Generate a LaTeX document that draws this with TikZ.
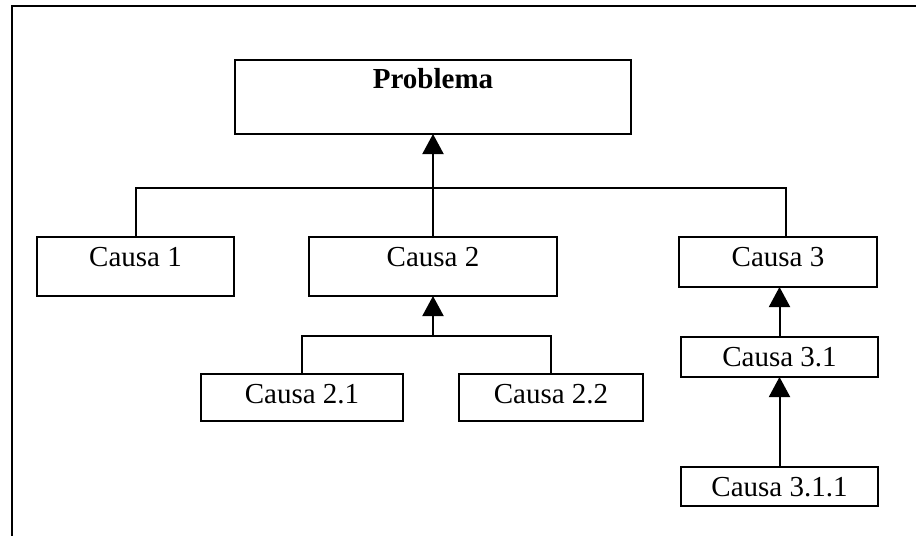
\documentclass[tikz,border=0pt]{standalone}
\usepackage{fontspec}
\setmainfont{Liberation Serif}
\usetikzlibrary{arrows.meta}
\begin{document}
\begin{tikzpicture}[x=0.5pt,y=-0.5pt,
  box/.style={draw,line width=1pt,inner sep=0pt,outer sep=0pt,rectangle},
  lbl/.style={anchor=base,inner sep=0pt,font=\fontsize{14.5}{17}\selectfont},
  conn/.style={line width=1pt},
  arr/.style={line width=1pt,-{Triangle[length=10pt,width=10.5pt]}}]
\useasboundingbox (0,0) rectangle (916,536);
\draw[line width=1pt] (916,6) -- (12,6) -- (12,536);
% boxes
\node[box,minimum width=396*0.5pt,minimum height=74*0.5pt] (p) at (433,97) {};
\node[box,minimum width=197*0.5pt,minimum height=59*0.5pt] (c1) at (135.5,266.5) {};
\node[box,minimum width=248*0.5pt,minimum height=59*0.5pt] (c2) at (433,266.5) {};
\node[box,minimum width=198*0.5pt,minimum height=50*0.5pt] (c3) at (778,262) {};
\node[box,minimum width=202*0.5pt,minimum height=47*0.5pt] (c21) at (302,397.5) {};
\node[box,minimum width=184*0.5pt,minimum height=47*0.5pt] (c22) at (551,397.5) {};
\node[box,minimum width=197*0.5pt,minimum height=40*0.5pt] (c31) at (779.5,357) {};
\node[box,minimum width=197*0.5pt,minimum height=39*0.5pt] (c311) at (779.5,486.5) {};
% labels
\node[lbl,font=\fontsize{14.5}{17}\selectfont\bfseries] (pt) at ([yshift=-14pt]p.north) {Problema};
\node[lbl] (c1t) at ([yshift=-14.5pt]c1.north) {Causa 1};
\node[lbl] (c2t) at ([yshift=-14.5pt]c2.north) {Causa 2};
\node[lbl] (c3t) at ([yshift=-14.5pt]c3.north) {Causa 3};
\node[lbl] (c21t) at ([yshift=-14.5pt]c21.north) {Causa 2.1};
\node[lbl] (c22t) at ([yshift=-14.5pt]c22.north) {Causa 2.2};
\node[lbl] (c31t) at ([yshift=-14.5pt]c31.north) {Causa 3.1};
\node[lbl] (c311t) at ([yshift=-14.5pt]c311.north) {Causa 3.1.1};
% connectors
\coordinate (j1) at (433,188);
\coordinate (j2) at (433,336);
\draw[conn] (c1.north) |- (j1) -| ([xshift=4pt]c3.north);
\draw[arr] (c2.north) -- (p.south);
\draw[conn] (c21.north) |- (j2) -| (c22.north);
\draw[arr] (j2) -- (c2.south);
\draw[arr] (c31.north) -- (c31.north |- c3.south);
\draw[arr] (c311.north) -- (c31.south);
\end{tikzpicture}
\end{document}
